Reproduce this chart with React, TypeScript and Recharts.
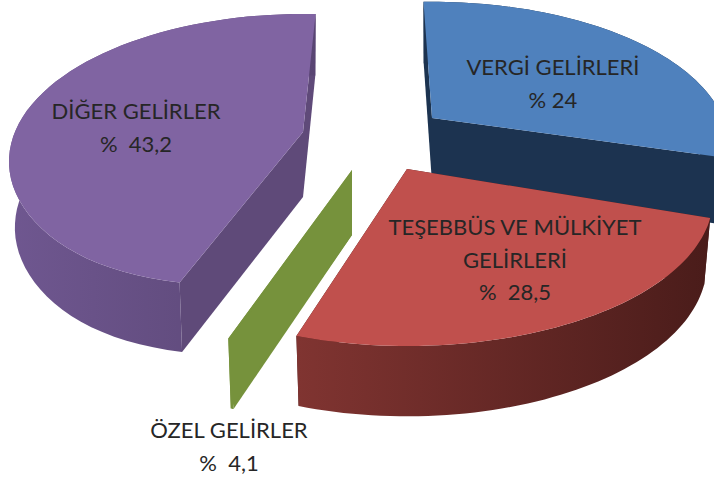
import { PieChart, Pie } from "recharts";

const categories = ["VERGİ GELİRLERİ", "TEŞEBBÜS VE MÜLKİYET GELİRLERİ", "ÖZEL GELİRLER", "DİĞER GELİRLER"];
const values = [24, 28.5, 4.1, 43.2];
const labelLines = [
  ["VERGİ GELİRLERİ", "% 24"],
  ["TEŞEBBÜS VE MÜLKİYET", "GELİRLERİ", "%  28,5"],
  ["ÖZEL GELİRLER", "%  4,1"],
  ["DİĞER GELİRLER", "%  43,2"],
];

const pieData = categories.map((name, i) => ({ name, value: values[i] }));

// look of each slice: top face, wall gradient, cut faces
const topColors = ["#4f81bd", "#c0504d", "#76923c", "#8064a2"];
const wallColors = [
  ["#1c3350", "#1c3350"],
  ["#803431", "#4a1c1a"],
  ["#76923c", "#76923c"],
  ["#6f5790", "#594573"],
];
const cutColors = ["#1c3350", "#4a1c1a", "#76923c", "#5f4a79"];

// 3d view: explosion of each slice, and the twist the perspective gives its edges (degrees)
const explode = [
  [75, -124],
  [50, -73],
  [-5, -72],
  [-54, -110],
];
const twist = [
  [-2, 19],
  [22.3, 8],
  [11, -3.3],
  [-3.8, 3],
];
const spreadX = [1, 1.03, 0.97, 0.99];
const farY = [0.985, 1, 1, 1];
const nearY = [1, 1, 1.035, 1];
const nearPinch = [0, 0, 0, 0.115];
const labelCenter = [
  [553, 75],
  [515, 235],
  [229, 438],
  [136, 119],
];

const K = 0.2;
const DEPTH = 65;

const project = (deg: number, R: number, i: number) => {
  const t = (deg * Math.PI) / 180;
  const X = Math.sin(t);
  const Y = Math.cos(t);
  const w = 1 + K * Y;
  const y = (-0.944 * R * Y) / w;
  const sy = Y > 0 ? farY[i] : nearY[i] * (1 - nearPinch[i] * Y ** 6);
  return [(1.94 * spreadX[i] * R * X) / w, y * sy];
};
const drop = (p: number[]) => [p[0] * 0.98, p[1] * 1.03 + DEPTH];
const toPath = (pts: number[][], ox: number, oy: number) =>
  "M" + pts.map((p) => `${(p[0] + ox).toFixed(1)},${(p[1] + oy).toFixed(1)}`).join("L") + "Z";

function Slice3D(props: any, idx: number) {
  const { cx, cy, outerRadius, startAngle, endAngle } = props;
  const i = props.index ?? idx;
  // recharts angles run counter-clockwise from 3 o'clock
  const a0 = 90 - startAngle + twist[i][0];
  const a1 = 90 - endAngle + twist[i][1];
  const ox = cx + explode[i][0];
  const oy = cy + explode[i][1];
  const arc: number[][] = [];
  const steps = 60;
  for (let n = 0; n <= steps; n++) {
    arc.push(project(a0 + ((a1 - a0) * n) / steps, outerRadius, i));
  }
  const apex = [0, 0];
  const low = arc.map(drop);
  const gid = `wall-${i}`;
  return (
    <g>
      <defs>
        <linearGradient id={gid} x1="0" y1="0" x2="1" y2="0">
          <stop offset="0%" stopColor={wallColors[i][0]} />
          <stop offset="100%" stopColor={wallColors[i][1]} />
        </linearGradient>
      </defs>
      <path d={toPath([apex, arc[0], low[0], drop(apex)], ox, oy)} fill={cutColors[i]} />
      <path d={toPath([apex, arc[steps], low[steps], drop(apex)], ox, oy)} fill={cutColors[i]} />
      <path d={toPath([...arc, ...[...low].reverse()], ox, oy)} fill={`url(#${gid})`} />
      <path d={toPath([apex, ...arc], ox, oy)} fill={topColors[i]} />
    </g>
  );
}

function SliceLabel(props: any) {
  const i = props.index;
  const [x, y] = labelCenter[i];
  return (
    <text
      textAnchor="middle"
      fontFamily="Lato, sans-serif"
      fontSize={22}
      fill="#262626"
      style={{ whiteSpace: "pre" }}
    >
      {labelLines[i].map((line, n) => (
        <tspan key={n} x={x} y={y + n * 32.7}>
          {line}
        </tspan>
      ))}
    </text>
  );
}

export default function App() {
  return (
    <div style={{ position: "absolute", left: 0, top: 0 }}>
      <PieChart width={714} height={484} margin={{ top: 0, right: 0, bottom: 0, left: 0 }}>
        <Pie
          data={pieData}
          dataKey="value"
          nameKey="name"
          cx={357}
          cy={242}
          outerRadius={150}
          startAngle={90}
          endAngle={-270}
          stroke="none"
          isAnimationActive={false}
          shape={Slice3D}
          label={SliceLabel}
          labelLine={false}
        />
      </PieChart>
    </div>
  );
}
